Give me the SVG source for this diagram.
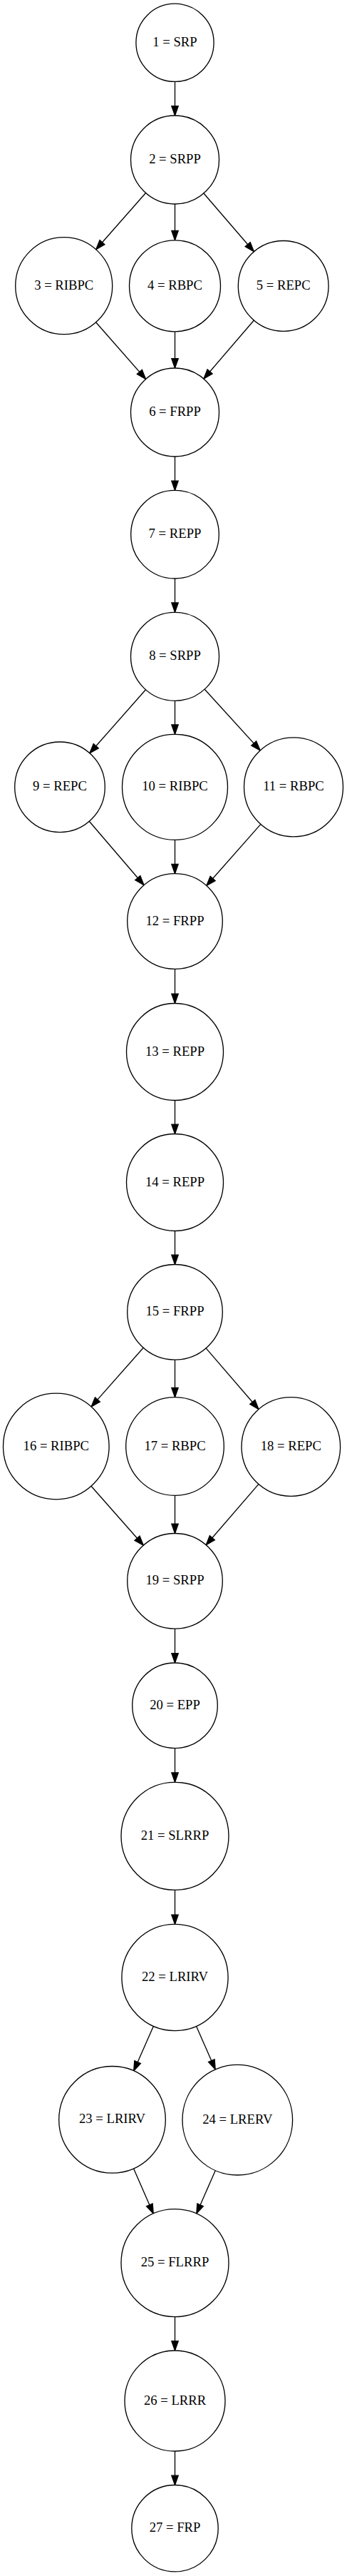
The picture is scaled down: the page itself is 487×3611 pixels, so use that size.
<svg xmlns="http://www.w3.org/2000/svg" width="487" height="3611" viewBox="0 0 487 3611">
<style>
.n circle{fill:#fff;stroke:#000;stroke-width:1.33}
.n text{font-family:"Liberation Serif","Times New Roman",serif;font-size:18.67px;text-anchor:middle;fill:#000}
.e line{stroke:#000;stroke-width:1.33;marker-end:url(#ah)}
</style>
<defs>
<marker id="ah" markerUnits="userSpaceOnUse" viewBox="-2 -7 18 14" markerWidth="18" markerHeight="14" refX="13.33" refY="0" orient="auto">
<path d="M0,-4.67 L13.33,0 L0,4.67 Z" fill="#000" stroke="#000" stroke-width="1.33"/>
</marker>
</defs>
<rect width="487" height="3611" fill="#fff"/>
<g id="edges" class="e">
<line x1="245.5" y1="114.4" x2="245.5" y2="162"/>
<line x1="204.5" y1="270.5" x2="134.7" y2="349.7"/>
<line x1="245.5" y1="286" x2="245.5" y2="336.8"/>
<line x1="285.9" y1="271" x2="356.4" y2="352.8"/>
<line x1="134.6" y1="451.8" x2="204.6" y2="531.4"/>
<line x1="245.5" y1="464.8" x2="245.5" y2="516"/>
<line x1="356.4" y1="449" x2="285.9" y2="531"/>
<line x1="245.5" y1="640" x2="245.5" y2="687.4"/>
<line x1="245.5" y1="811" x2="245.5" y2="858.3"/>
<line x1="204.5" y1="966.8" x2="125.9" y2="1055.8"/>
<line x1="245.5" y1="982.3" x2="245.5" y2="1029.3"/>
<line x1="287.2" y1="966.2" x2="365.2" y2="1051.9"/>
<line x1="125.2" y1="1151.3" x2="202" y2="1240.8"/>
<line x1="245.5" y1="1177.3" x2="245.5" y2="1224.7"/>
<line x1="365.9" y1="1155.4" x2="289.8" y2="1241.5"/>
<line x1="245.5" y1="1358.3" x2="245.5" y2="1406.5"/>
<line x1="245.5" y1="1542.5" x2="245.5" y2="1589.5"/>
<line x1="245.5" y1="1725.5" x2="245.5" y2="1772.5"/>
<line x1="201.2" y1="1889.3" x2="128.1" y2="1971.9"/>
<line x1="245.5" y1="1906.1" x2="245.5" y2="1958.7"/>
<line x1="289.1" y1="1889.9" x2="363" y2="1975.5"/>
<line x1="128" y1="2083.2" x2="201.3" y2="2166.2"/>
<line x1="245.5" y1="2096.3" x2="245.5" y2="2149.5"/>
<line x1="363" y1="2080.4" x2="289.2" y2="2165.8"/>
<line x1="245.5" y1="2283.1" x2="245.5" y2="2331"/>
<line x1="245.5" y1="2450.6" x2="245.5" y2="2498.3"/>
<line x1="245.5" y1="2649.3" x2="245.5" y2="2697.4"/>
<line x1="215.4" y1="2840.2" x2="187.7" y2="2902.9"/>
<line x1="275.5" y1="2840.3" x2="302.2" y2="2900.9"/>
<line x1="187.5" y1="3039.8" x2="215.2" y2="3103"/>
<line x1="302.3" y1="3042.5" x2="275.8" y2="3103"/>
<line x1="245.5" y1="3247.7" x2="245.5" y2="3295"/>
<line x1="245.5" y1="3436" x2="245.5" y2="3483.5"/>
</g>
<g id="node1" class="n"><circle cx="245.5" cy="59.8" r="54.6"/><text x="245.5" y="64.8">1 = SRP</text></g>
<g id="node2" class="n"><circle cx="245.5" cy="224" r="62"/><text x="245.5" y="229">2 = SRPP</text></g>
<g id="node3" class="n"><circle cx="89.7" cy="400.7" r="68"/><text x="89.7" y="405.7">3 = RIBPC</text></g>
<g id="node4" class="n"><circle cx="245.5" cy="400.8" r="64"/><text x="245.5" y="405.8">4 = RBPC</text></g>
<g id="node5" class="n"><circle cx="397.7" cy="400.9" r="63.4"/><text x="397.7" y="405.9">5 = REPC</text></g>
<g id="node6" class="n"><circle cx="245.5" cy="578" r="62"/><text x="245.5" y="583">6 = FRPP</text></g>
<g id="node7" class="n"><circle cx="245.5" cy="749.2" r="61.8"/><text x="245.5" y="754.2">7 = REPP</text></g>
<g id="node8" class="n"><circle cx="245.5" cy="920.3" r="62"/><text x="245.5" y="925.3">8 = SRPP</text></g>
<g id="node9" class="n"><circle cx="84" cy="1103.3" r="63.3"/><text x="84" y="1108.3">9 = REPC</text></g>
<g id="node10" class="n"><circle cx="245.5" cy="1103.3" r="74"/><text x="245.5" y="1108.3">10 = RIBPC</text></g>
<g id="node11" class="n"><circle cx="412" cy="1103.3" r="69.5"/><text x="412" y="1108.3">11 = RBPC</text></g>
<g id="node12" class="n"><circle cx="245.5" cy="1291.5" r="66.8"/><text x="245.5" y="1296.5">12 = FRPP</text></g>
<g id="node13" class="n"><circle cx="245.5" cy="1474.5" r="68"/><text x="245.5" y="1479.5">13 = REPP</text></g>
<g id="node14" class="n"><circle cx="245.5" cy="1657.5" r="68"/><text x="245.5" y="1662.5">14 = REPP</text></g>
<g id="node15" class="n"><circle cx="245.5" cy="1839.3" r="66.8"/><text x="245.5" y="1844.3">15 = FRPP</text></g>
<g id="node16" class="n"><circle cx="78.8" cy="2027.5" r="74.3"/><text x="78.8" y="2032.5">16 = RIBPC</text></g>
<g id="node17" class="n"><circle cx="245.5" cy="2027.5" r="68.8"/><text x="245.5" y="2032.5">17 = RBPC</text></g>
<g id="node18" class="n"><circle cx="408.3" cy="2028" r="69.3"/><text x="408.3" y="2033">18 = REPC</text></g>
<g id="node19" class="n"><circle cx="245.5" cy="2216.3" r="66.8"/><text x="245.5" y="2221.3">19 = SRPP</text></g>
<g id="node20" class="n"><circle cx="245.5" cy="2390.8" r="59.8"/><text x="245.5" y="2395.8">20 = EPP</text></g>
<g id="node21" class="n"><circle cx="245.5" cy="2573.8" r="75.5"/><text x="245.5" y="2578.8">21 = SLRRP</text></g>
<g id="node22" class="n"><circle cx="245.5" cy="2772" r="74.6"/><text x="245.5" y="2777">22 = LRIRV</text></g>
<g id="node23" class="n"><circle cx="157.5" cy="2971.3" r="74.8"/><text x="157.5" y="2976.3">23 = LRIRV</text></g>
<g id="node24" class="n"><circle cx="333.3" cy="2971.7" r="77.3"/><text x="333.3" y="2976.7">24 = LRERV</text></g>
<g id="node25" class="n"><circle cx="245.5" cy="3172.2" r="75.5"/><text x="245.5" y="3177.2">25 = FLRRP</text></g>
<g id="node26" class="n"><circle cx="245.5" cy="3365.5" r="70.5"/><text x="245.5" y="3370.5">26 = LRRR</text></g>
<g id="node27" class="n"><circle cx="245.5" cy="3544.2" r="60.7"/><text x="245.5" y="3549.2">27 = FRP</text></g>
</svg>
